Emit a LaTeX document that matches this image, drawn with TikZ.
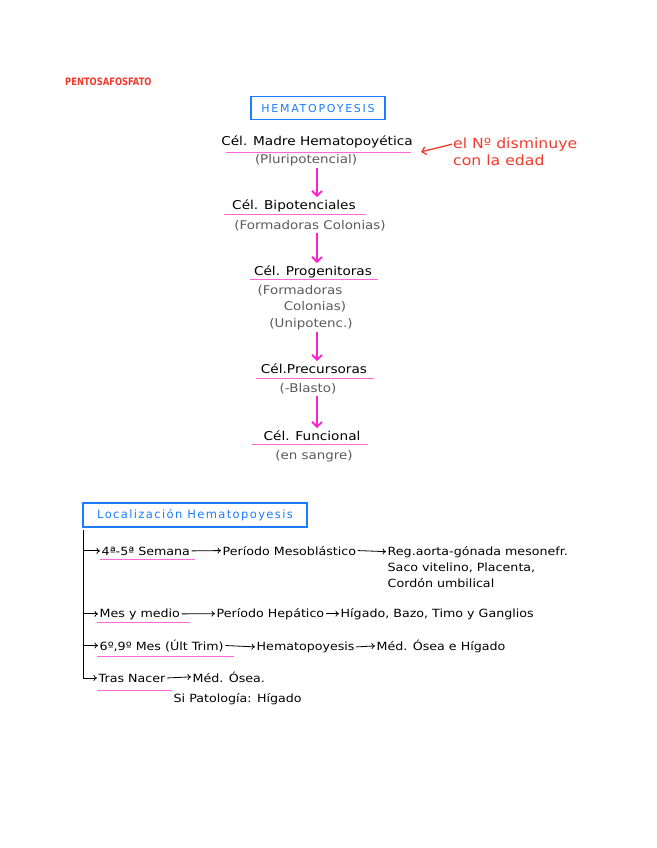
\documentclass[tikz,border=0pt]{standalone}
\usepackage{fontspec}
\setmainfont{DejaVu Sans}[FakeStretch=1.12]
\newfontfamily\titlefont{DejaVu Sans}[LetterSpace=16]
\newfontfamily\locfont{DejaVu Sans}[LetterSpace=12]
\newfontfamily\pentofont{DejaVu Sans}[FakeStretch=0.82]
\usetikzlibrary{arrows.meta}
\definecolor{pinkA}{HTML}{FF22CC}
\definecolor{pinkU}{HTML}{FF66D6}
\definecolor{blueT}{HTML}{1A7CFF}
\definecolor{redT}{HTML}{F2392C}
\definecolor{grayT}{HTML}{5A5A5A}
\tikzset{
  main/.style={anchor=base, inner sep=2pt, font=\fontsize{12.2}{14}\selectfont, text=black},
  sub/.style={anchor=base, inner sep=2pt, font=\fontsize{12}{14}\selectfont, text=grayT},
  row/.style={anchor=base west, inner sep=1.5pt, font=\fontsize{11.3}{14}\selectfont, text=black},
  note/.style={anchor=base west, inner sep=1pt, font=\fontsize{14}{16}\selectfont, text=redT},
  uline/.style={draw=pinkU, line width=1pt},
  parrow/.style={draw=pinkA, line width=1.8pt, -{Straight Barb[length=5pt,width=10pt,line width=1.8pt]}},
  rarrow/.style={draw=black, line width=0.8pt, -{To[length=3.5pt,width=6pt]}},
  narrow/.style={draw=redT, line width=1.3pt, -{Straight Barb[length=4pt,width=8pt]}},
  bbox/.style={draw=blueT, line width=1.8pt, text=blueT}
}
\begin{document}
\begin{tikzpicture}[x=1pt,y=-1pt]
\useasboundingbox (0,0) rectangle (656,848);
\coordinate (ax) at (317,0);
% header
\node[anchor=base west, inner sep=0pt, text=redT, font=\pentofont\bfseries\fontsize{10.2}{11}\selectfont] (pento) at (65,86) {PENTOSAFOSFATO};
\node[bbox, minimum width=134pt, minimum height=23pt, font=\titlefont\fontsize{11}{12}\selectfont] (title) at (318,108) {HEMATOPOYESIS};
% column
\node[main] (madre) at (317,146) {Cél. Madre Hematopoyética};
\node[sub] (pluri) at (306,163) {(Pluripotencial)};
\node[main] (bipot) at (294,209) {Cél. Bipotenciales};
\node[sub] (formc) at (310,229) {(Formadoras Colonias)};
\node[main] (progen) at (313,275) {Cél. Progenitoras};
\node[sub] (form2) at (300,294) {(Formadoras};
\node[sub] (colon2) at (315,310) {Colonias)};
\node[sub] (unip) at (311,327) {(Unipotenc.)};
\node[main] (precur) at (314,373) {Cél.Precursoras};
\node[sub] (blasto) at (308,392) {(-Blasto)};
\node[main] (func) at (312,440) {Cél. Funcional};
\node[sub] (sangre) at (314,459) {(en sangre)};
\draw[uline] (226,152) -- (411,152);
\draw[uline] (224,214) -- (366,214);
\draw[uline] (250,279) -- (378,279);
\draw[uline] (256,378) -- (374,378);
\draw[uline] (252,444) -- (368,444);
\draw[parrow] (pluri.south -| ax) -- (bipot.north -| ax);
\draw[parrow] (formc.south -| ax) -- (progen.north -| ax);
\draw[parrow] (unip.south -| ax) -- (precur.north -| ax);
\draw[parrow] (blasto.south -| ax) -- (func.north -| ax);
% note
\node[note] (note1) at (452,148) {el Nº disminuye};
\node[note] (note2) at (452,165) {con la edad};
\coordinate (notetip) at (421,152);
\draw[narrow] (note1.west) to[out=195,in=15] (notetip);
% localizacion
\node[bbox, minimum width=224pt, minimum height=24pt, font=\locfont\fontsize{11.5}{13}\selectfont] (loc) at (195,515) {Localización Hematopoyesis};
\coordinate (trunk) at (83,530);
% row 1
\node[row] (r1a) at (100,555) {4ª-5ª Semana};
\node[row] (r1b) at (221,555) {Período Mesoblástico};
\node[row] (r1c) at (386,555) {Reg.aorta-gónada mesonefr.};
\node[row] (r1d) at (386,571) {Saco vitelino, Placenta,};
\node[row] (r1e) at (386,587) {Cordón umbilical};
% row 2
\node[row] (r2a) at (98,617) {Mes y medio};
\node[row] (r2b) at (215,617) {Período Hepático};
\node[row] (r2c) at (339,617) {Hígado, Bazo, Timo y Ganglios};
% row 3
\node[row] (r3a) at (98,650) {6º,9º Mes (Últ Trim)};
\node[row] (r3b) at (255,650) {Hematopoyesis};
\node[row] (r3c) at (375,650) {Méd. Ósea e Hígado};
% row 4
\node[row] (r4a) at (97,682) {Tras Nacer};
\node[row] (r4b) at (191,682) {Méd. Ósea.};
\node[row] (r4c) at (172,702) {Si Patología: Hígado};
% underlines rows
\draw[uline] (100,559) -- (195,559);
\draw[uline] (97,622) -- (190,622);
\draw[uline] (97,656) -- (234,656);
\draw[uline] (97,690) -- (172,690);
% trunk and branches
\draw[line width=0.8pt] (trunk) -- (r4a.west -| trunk);
\draw[rarrow] (r1a.west -| trunk) -- (r1a.west);
\draw[rarrow] (r2a.west -| trunk) -- (r2a.west);
\draw[rarrow] (r3a.west -| trunk) -- (r3a.west);
\draw[rarrow] (r4a.west -| trunk) -- (r4a.west);
\draw[rarrow] (r1a.east) -- (r1b.west);
\draw[rarrow] (r1b.east) -- (r1c.west);
\draw[rarrow] (r2a.east) -- (r2b.west);
\draw[rarrow] (r2b.east) -- (r2c.west);
\draw[rarrow] (r3a.east) -- (r3b.west);
\draw[rarrow] (r3b.east) -- (r3c.west);
\draw[rarrow] (r4a.east) -- (r4b.west);
\end{tikzpicture}
\end{document}
